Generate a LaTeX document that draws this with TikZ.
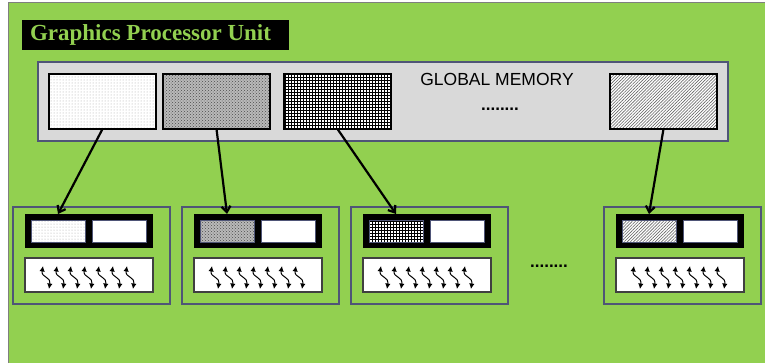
\documentclass[tikz,border=0pt]{standalone}
\usepackage{fontspec}
\setmainfont{Liberation Serif}
\newfontfamily\arialfont{Liberation Sans}
\usetikzlibrary{arrows.meta,patterns,patterns.meta}
\definecolor{gpugreen}{HTML}{92D050}
\definecolor{memgray}{HTML}{D9D9D9}
\definecolor{smline}{HTML}{4F5577}
\definecolor{frame}{HTML}{7F7F7F}

\begin{document}
\begin{tikzpicture}[
  x=1pt, y=-1pt,
  every node/.style={inner sep=0pt, outer sep=0pt},
  membox/.style={draw=black, line width=1.2pt, minimum width=107pt, minimum height=55pt, anchor=north west},
  smbox/.style={draw=smline, line width=1.2pt, minimum width=157pt, minimum height=97pt, anchor=north west},
  smbar/.style={fill=black, minimum width=128pt, minimum height=34pt, anchor=north west},
  smem/.style={draw=smline, line width=0.8pt, minimum width=54pt, minimum height=22pt, anchor=north west},
  thrbox/.style={draw=black!75, fill=white, line width=1.2pt, minimum width=128pt, minimum height=34pt, anchor=north west},
  pat1/.style={preaction={fill=white}, pattern=dots, pattern color=gray!70},
  pat2/.style={preaction={fill=gray!55}, pattern=crosshatch dots, pattern color=gray!60!black},
  pat3/.style={preaction={fill=white}, pattern=grid, pattern color=black},
  pat4/.style={preaction={fill=white}, pattern={Lines[angle=45,distance=2.2pt,line width=0.6pt]}, pattern color=gray!80!black},
  arr/.style={-{Straight Barb[length=6pt,width=9pt]}, line width=2.2pt},
  wavy/.style={{Latex[length=5.5pt,width=5.5pt]}-{Latex[length=5.5pt,width=5.5pt]}, line width=1pt}
]
\useasboundingbox (0,0) rectangle (765,362);
% background
\fill[gpugreen] (8,2) rectangle (766,363);
\draw[frame, line width=0.8pt] (8,363) -- (8,2) -- (766,2);

% title
\node[fill=black, minimum width=267pt, minimum height=30pt, anchor=north west] (title) at (22,20) {};
\node[anchor=west, text=gpugreen, font=\fontsize{23}{25}\selectfont\bfseries] (titletext) at (30,35) {Graphics Processor Unit};

% global memory
\node[draw=smline, fill=memgray, line width=1.5pt, minimum width=690pt, minimum height=79pt, anchor=north west] (gmem) at (38,62) {};
\node[font=\arialfont\fontsize{17.5}{19}\selectfont] (gmemtext) at (497,79) {GLOBAL MEMORY};
\node[font=\arialfont\fontsize{17}{19}\selectfont\bfseries] (gdots) at (500,109) {........};
\node[membox, pat1] (m1) at (49,74) {};
\node[membox, pat2] (m2) at (163,74) {};
\node[membox, pat3] (m3) at (284,74) {};
\node[membox, pat4] (m4) at (610,74) {};

% multiprocessors
\foreach \i/\dx in {1/0, 2/169, 3/338, 4/591} {
  \node[smbox] (sm\i) at (13+\dx,207) {};
  \node[smbar] (bar\i) at (25+\dx,214) {};
  \node[smem, pat\i] (s\i) at (31+\dx,220) {};
  \node[smem, fill=white] (r\i) at (92+\dx,220) {};
  \node[thrbox] (t\i) at (25+\dx,258) {};
  \foreach \k in {0,...,6}
    \draw[wavy] (43+\dx+14*\k,266) .. controls (41+\dx+14*\k,278) and (51+\dx+14*\k,276) .. (49+\dx+14*\k,289);
  \draw[arr] (m\i.south) -- (s\i |- bar\i.north);
}
\node[font=\arialfont\fontsize{17}{19}\selectfont\bfseries] (smdots) at (549,266) {........};
\end{tikzpicture}
\end{document}
